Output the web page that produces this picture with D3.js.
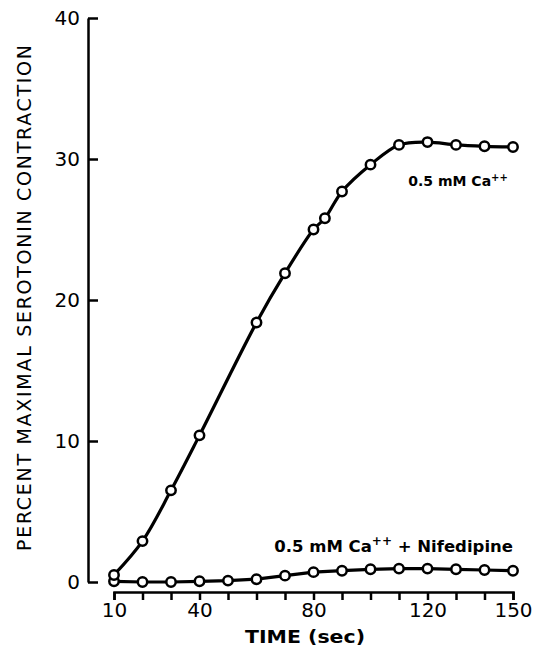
<!DOCTYPE html>
<html>
<head>
<meta charset="utf-8">
<script src="https://cdn.jsdelivr.net/npm/d3@7"></script>
<style>
  html, body { margin: 0; padding: 0; background: #fff; }
  svg { display: block; }
  text { font-family: "DejaVu Sans", "Liberation Sans", sans-serif; fill: #000; }
</style>
</head>
<body>
<svg id="chart" width="536" height="654"></svg>
<script>
// ---- data ----
const timeCa = [10, 20, 30, 40, 60, 70, 80, 84, 90, 100, 110, 120, 130, 140, 150];
const valuesCa = [0.5, 2.9, 6.5, 10.4, 18.4, 21.9, 25.0, 25.8, 27.7, 29.6, 31.0, 31.2, 31.0, 30.9, 30.85];
const timeNif = [10, 20, 30, 40, 50, 60, 70, 80, 90, 100, 110, 120, 130, 140, 150];
const valuesNif = [0.05, 0.0, 0.0, 0.05, 0.1, 0.2, 0.45, 0.7, 0.8, 0.9, 0.95, 0.95, 0.9, 0.85, 0.8];
const xTicks = [10, 20, 30, 40, 50, 60, 70, 80, 90, 100, 110, 120, 130, 140, 150];
const xTickLabels = [10, 40, 80, 120, 150];
const yTicks = [0, 10, 20, 30, 40];
const xTitle = "TIME (sec)";
const yTitle = "PERCENT MAXIMAL SEROTONIN CONTRACTION";

const svg = d3.select("#chart");
const x = d3.scaleLinear().domain([10, 150]).range([114, 513]);
const y = d3.scaleLinear().domain([0, 40]).range([582, 18]);
const FONT = "'DejaVu Sans', 'Liberation Sans', sans-serif";

// y axis
const yAxis = d3.axisLeft(y).tickValues(yTicks).tickSize(-10).tickSizeOuter(0).tickPadding(8)
  .tickFormat(d3.format("d"));
const gy = svg.append("g").attr("transform", "translate(88,0)").call(yAxis);
gy.select(".domain").attr("stroke", "#000").attr("stroke-width", 2.5);
gy.selectAll(".tick line").attr("stroke", "#000").attr("stroke-width", 2.5);
gy.selectAll(".tick text").style("font-size", "20px").style("font-family", FONT)
  .attr("fill", "#000");

// x axis
const xAxis = d3.axisBottom(x).tickValues(xTicks).tickSize(8).tickSizeOuter(8).tickPadding(3)
  .tickFormat(d => xTickLabels.includes(d) ? d : "");
const gx = svg.append("g").attr("transform", "translate(0,592)").call(xAxis);
gx.select(".domain").attr("stroke", "#000").attr("stroke-width", 2.5);
gx.selectAll(".tick line").attr("stroke", "#000").attr("stroke-width", 2.5);
gx.selectAll(".tick text").style("font-size", "20px").style("font-family", FONT)
  .attr("fill", "#000");

// titles
svg.append("text")
  .attr("x", 305).attr("y", 643)
  .attr("text-anchor", "middle")
  .style("font-size", "17px").style("font-weight", "bold")
  .attr("textLength", 120).attr("lengthAdjust", "spacingAndGlyphs")
  .text(xTitle);

svg.append("text")
  .attr("transform", "translate(31,298) rotate(-90)")
  .attr("text-anchor", "middle")
  .style("font-size", "19px").style("font-weight", "normal")
  .attr("textLength", 506).attr("lengthAdjust", "spacing")
  .text(yTitle);

// series
const ca = timeCa.map((t, i) => ({ t, v: valuesCa[i] }));
const nif = timeNif.map((t, i) => ({ t, v: valuesNif[i] }));

svg.append("path").datum(nif)
  .attr("fill", "none").attr("stroke", "#000").attr("stroke-width", 3.2)
  .attr("d", d3.line().x(d => x(d.t)).y(d => y(d.v)));
svg.append("path").datum(ca)
  .attr("fill", "none").attr("stroke", "#000").attr("stroke-width", 3.2)
  .attr("d", d3.line().curve(d3.curveCatmullRom).x(d => x(d.t)).y(d => y(d.v)));

[nif, ca].forEach(s => {
  svg.append("g").selectAll("circle").data(s).join("circle")
    .attr("cx", d => x(d.t)).attr("cy", d => y(d.v)).attr("r", 4.7)
    .attr("fill", "#fff").attr("stroke", "#000").attr("stroke-width", 2.5);
});

// series labels
function label(tx, vy, sizePx) {
  return svg.append("text").attr("x", x(tx)).attr("y", y(vy))
    .attr("text-anchor", "end")
    .style("font-size", sizePx + "px").style("font-weight", "bold");
}
const l1 = label(148.2, 28.1, 14);
l1.append("tspan").text("0.5 mM Ca");
l1.append("tspan").attr("baseline-shift", "super").style("font-size", "10px").text("++");

const l2 = label(150, 2.1, 16.5);
l2.append("tspan").text("0.5 mM Ca");
l2.append("tspan").attr("baseline-shift", "super").style("font-size", "12px").text("++");
l2.append("tspan").text(" + Nifedipine");
</script>
</body>
</html>
